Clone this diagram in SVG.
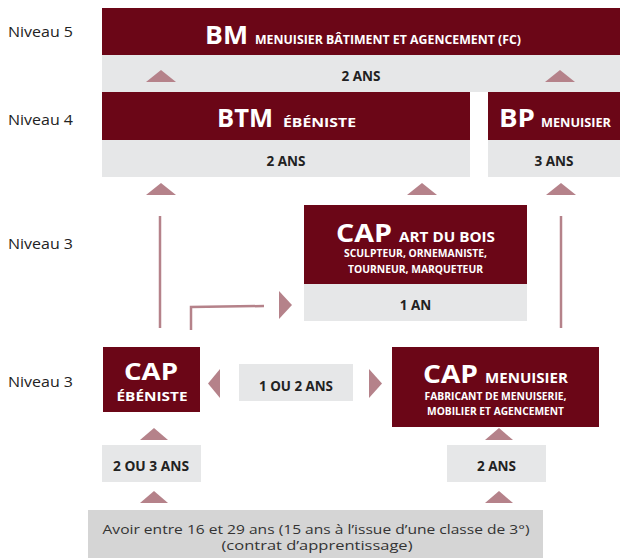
<svg xmlns="http://www.w3.org/2000/svg" width="622" height="558" viewBox="0 0 622 558">
<style>
.dark{fill:#6b0617}
.gray{fill:#e6e7e8}
.base{fill:#d5d5d5}
.tri{fill:#b5828a}
.ln{stroke:#b5828a;stroke-width:2.5;fill:none}
.lvl{font-family:"Open Sans","Liberation Sans",sans-serif;font-size:15px;fill:#222}
.big{font-family:"Open Sans","Liberation Sans",sans-serif;font-weight:700;fill:#fff}
.sm{font-family:"Open Sans","Liberation Sans",sans-serif;font-weight:700;fill:#fff}
.dur{font-family:"Open Sans","Liberation Sans",sans-serif;font-weight:700;fill:#222;font-size:13.5px}
.reg{font-family:"Open Sans","Liberation Sans",sans-serif;fill:#333;font-size:12.5px}
</style>
<rect width="622" height="558" fill="#fff"/>
<g id="levels">
<text class="lvl" x="8" y="37" textLength="65" lengthAdjust="spacingAndGlyphs">Niveau 5</text>
<text class="lvl" x="8" y="125" textLength="65" lengthAdjust="spacingAndGlyphs">Niveau 4</text>
<text class="lvl" x="8" y="249" textLength="65" lengthAdjust="spacingAndGlyphs">Niveau 3</text>
<text class="lvl" x="8" y="387" textLength="65" lengthAdjust="spacingAndGlyphs">Niveau 3</text>
</g>
<g id="bm">
<rect class="dark" x="102" y="8" width="518" height="47"/>
<rect class="gray" x="102" y="55" width="518" height="37"/>
<text class="big" x="205" y="44" font-size="25" textLength="43" lengthAdjust="spacingAndGlyphs">BM</text>
<text class="sm" x="255" y="44" font-size="11.5" textLength="266" lengthAdjust="spacingAndGlyphs">MENUISIER BÂTIMENT ET AGENCEMENT (FC)</text>
<text class="dur" x="361" y="81" text-anchor="middle">2 ANS</text>
</g>
<g id="btm">
<rect class="dark" x="102" y="92" width="368" height="48"/>
<rect class="gray" x="102" y="140" width="368" height="37"/>
<text class="big" x="217" y="127" font-size="25" textLength="56" lengthAdjust="spacingAndGlyphs">BTM</text>
<text class="sm" x="283" y="127" font-size="11.5" textLength="73" lengthAdjust="spacingAndGlyphs">ÉBÉNISTE</text>
<text class="dur" x="286" y="166" text-anchor="middle">2 ANS</text>
</g>
<g id="bp">
<rect class="dark" x="488" y="92" width="132" height="48"/>
<rect class="gray" x="488" y="140" width="132" height="37"/>
<text class="big" x="499" y="127" font-size="25" textLength="36" lengthAdjust="spacingAndGlyphs">BP</text>
<text class="sm" x="541" y="127" font-size="11.5" textLength="70" lengthAdjust="spacingAndGlyphs">MENUISIER</text>
<text class="dur" x="554" y="166" text-anchor="middle">3 ANS</text>
</g>
<g id="cap-art">
<rect class="dark" x="304" y="205" width="223" height="79"/>
<rect class="gray" x="304" y="284" width="223" height="37"/>
<text class="big" x="336" y="242" font-size="25" textLength="56" lengthAdjust="spacingAndGlyphs">CAP</text>
<text class="sm" x="399" y="242" font-size="14" textLength="96" lengthAdjust="spacingAndGlyphs">ART DU BOIS</text>
<text class="sm" x="415.5" y="257" font-size="10.5" text-anchor="middle" textLength="143" lengthAdjust="spacingAndGlyphs">SCULPTEUR, ORNEMANISTE,</text>
<text class="sm" x="415.5" y="273" font-size="10.5" text-anchor="middle" textLength="135" lengthAdjust="spacingAndGlyphs">TOURNEUR, MARQUETEUR</text>
<text class="dur" x="415.5" y="310" text-anchor="middle" font-size="14">1 AN</text>
</g>
<g id="cap-ebeniste">
<rect class="dark" x="103" y="347" width="97" height="65"/>
<text class="big" x="151" y="380" font-size="23" text-anchor="middle" textLength="54" lengthAdjust="spacingAndGlyphs">CAP</text>
<text class="sm" x="152" y="401" font-size="12.5" text-anchor="middle" textLength="71" lengthAdjust="spacingAndGlyphs">ÉBÉNISTE</text>
</g>
<g id="duree-1ou2">
<rect class="gray" x="239" y="364" width="114" height="37"/>
<text class="dur" x="296" y="391" text-anchor="middle" textLength="74" lengthAdjust="spacingAndGlyphs">1 OU 2 ANS</text>
</g>
<g id="cap-menuisier">
<rect class="dark" x="392" y="347" width="207" height="80"/>
<text class="big" x="423" y="383" font-size="25" textLength="55" lengthAdjust="spacingAndGlyphs">CAP</text>
<text class="sm" x="485" y="383" font-size="14" textLength="83" lengthAdjust="spacingAndGlyphs">MENUISIER</text>
<text class="sm" x="495.5" y="400" font-size="10.5" text-anchor="middle" textLength="142" lengthAdjust="spacingAndGlyphs">FABRICANT DE MENUISERIE,</text>
<text class="sm" x="495.5" y="415" font-size="10.5" text-anchor="middle" textLength="137" lengthAdjust="spacingAndGlyphs">MOBILIER ET AGENCEMENT</text>
</g>
<g id="duree-2ou3">
<rect class="gray" x="102" y="445" width="99" height="37"/>
<text class="dur" x="151" y="471" text-anchor="middle" textLength="76" lengthAdjust="spacingAndGlyphs">2 OU 3 ANS</text>
</g>
<g id="duree-2ans">
<rect class="gray" x="447" y="445" width="99" height="37"/>
<text class="dur" x="496.5" y="471" text-anchor="middle">2 ANS</text>
</g>
<g id="conditions">
<rect class="base" x="88" y="510" width="455" height="48"/>
<text class="reg" x="316" y="534" text-anchor="middle" textLength="427" lengthAdjust="spacingAndGlyphs">Avoir entre 16 et 29 ans (15 ans à l’issue d’une classe de 3°)</text>
<text class="reg" x="317" y="550" text-anchor="middle" textLength="191" lengthAdjust="spacingAndGlyphs">(contrat d’apprentissage)</text>
</g>
<g id="connectors">
<polygon class="tri" points="146,82 176,82 161,70"/>
<polygon class="tri" points="545,82 575,82 560,70"/>
<polygon class="tri" points="146,195 176,195 161,183"/>
<polygon class="tri" points="407,195 437,195 422,183"/>
<polygon class="tri" points="546,195 576,195 561,183"/>
<line class="ln" x1="160" y1="216" x2="160" y2="328"/>
<line class="ln" x1="561" y1="216" x2="561" y2="328"/>
<polyline class="ln" points="191,330 191,307 264,306"/>
<polygon class="tri" points="279,291 292,305 279,319"/>
<polygon class="tri" points="220,369 208,383.5 220,398"/>
<polygon class="tri" points="369,369 382,383.5 369,398"/>
<polygon class="tri" points="140,440 168,440 154,428"/>
<polygon class="tri" points="485,440 513,440 499,428"/>
<polygon class="tri" points="140,503 168,503 154,491"/>
<polygon class="tri" points="485,503 513,503 499,491"/>
</g>
</svg>
